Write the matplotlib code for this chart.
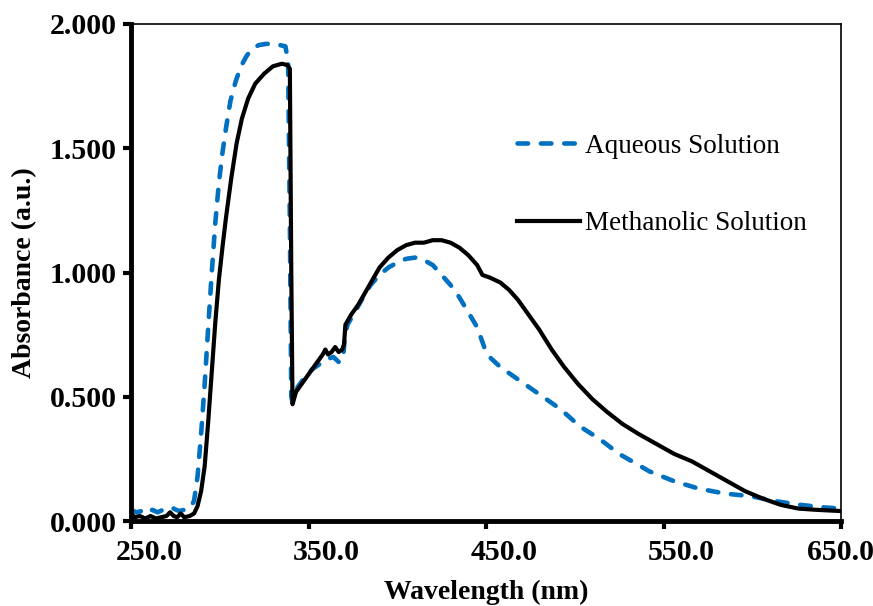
import numpy as np
import matplotlib
matplotlib.use('Agg')
import matplotlib.pyplot as plt
import matplotlib.transforms as mtransforms
from matplotlib.ticker import FormatStrFormatter

plt.rcParams['font.family'] = 'Liberation Serif'

# Aqueous solution (blue dashed)
aq_wl = [250, 253, 256, 259, 262, 265, 268, 271, 274, 277, 280, 283, 285.5, 287.5, 289.5,
         291.5, 293.5, 295.5, 297.5, 299.5, 301.5, 303.5, 306, 309, 312, 315, 318, 322,
         326, 330, 334, 337, 338.5, 339.5, 340.3, 341, 344, 348, 352, 356, 360, 364, 367,
         369.5, 370.5, 372, 376, 380, 385, 390, 395, 400, 405, 410, 415, 420, 425, 430,
         435, 440, 445, 449, 452, 458, 464, 470, 480, 492, 503, 514, 525, 542, 556, 570,
         585, 599, 613, 627, 640, 650]
aq_abs = [0.045, 0.035, 0.04, 0.03, 0.045, 0.035, 0.045, 0.04, 0.05, 0.04, 0.045, 0.05,
          0.08, 0.18, 0.35, 0.55, 0.78, 1.0, 1.2, 1.36, 1.48, 1.58, 1.69, 1.77, 1.83, 1.87,
          1.9, 1.915, 1.92, 1.92, 1.915, 1.91, 1.85, 1.2, 0.5, 0.48, 0.54, 0.58, 0.61,
          0.63, 0.65, 0.66, 0.64, 0.65, 0.75, 0.79, 0.84, 0.89, 0.95, 0.99, 1.02, 1.04,
          1.055, 1.06, 1.05, 1.03, 0.99, 0.95, 0.9, 0.84, 0.78, 0.7, 0.66, 0.62, 0.59,
          0.56, 0.51, 0.45, 0.38, 0.33, 0.27, 0.2, 0.16, 0.13, 0.11, 0.1, 0.08, 0.065,
          0.055, 0.05]

# Methanolic solution (black solid)
me_wl = [250, 252, 255, 258, 261, 264, 267, 270, 272, 274, 276, 278, 280, 283, 285.5,
         287.5, 289.5, 291.5, 293.5, 295.5, 297.5, 299.5, 301.5, 303.5, 306.5, 309.5,
         312.5, 316, 320, 325, 330, 335, 338, 339.5, 340.3, 341, 343, 347, 351, 355, 358,
         359.5, 361, 363, 365, 367, 369, 370, 370.8, 374, 378, 382, 386, 390, 395, 400,
         405, 410, 415, 420, 425, 430, 435, 440, 445, 448, 452, 458, 463, 468, 474, 480,
         487, 494, 502, 510, 518, 527, 536, 546, 556, 566, 576, 586, 596, 606, 616, 626,
         636, 650]
me_abs = [0.03, 0.015, 0.02, 0.01, 0.02, 0.01, 0.015, 0.02, 0.035, 0.02, 0.015, 0.03,
          0.015, 0.02, 0.03, 0.06, 0.12, 0.22, 0.4, 0.6, 0.8, 0.97, 1.1, 1.22, 1.38, 1.52,
          1.62, 1.7, 1.76, 1.8, 1.83, 1.84, 1.835, 1.82, 1.0, 0.47, 0.52, 0.56, 0.6, 0.64,
          0.67, 0.69, 0.67, 0.68, 0.7, 0.68, 0.69, 0.71, 0.79, 0.83, 0.87, 0.92, 0.97,
          1.02, 1.06, 1.09, 1.11, 1.12, 1.12, 1.13, 1.13, 1.12, 1.1, 1.07, 1.03, 0.99,
          0.98, 0.96, 0.93, 0.89, 0.83, 0.77, 0.69, 0.62, 0.55, 0.49, 0.44, 0.39, 0.35,
          0.31, 0.27, 0.24, 0.2, 0.16, 0.12, 0.09, 0.065, 0.05, 0.045, 0.04]

fig = plt.figure(figsize=(8.73, 6.06), dpi=100)
ax = fig.add_axes([131/873, 85/606, 710/873, 497/606])

ax.plot(aq_wl, aq_abs, color='#0070C0', lw=3.3, dashes=(2.3, 2.8),
        dash_capstyle='round', solid_capstyle='round', label='Aqueous Solution')
ax.plot(me_wl, me_abs, color='black', lw=3.0, solid_joinstyle='round',
        label='Methanolic Solution')

ax.set_xlim(250, 650)
ax.set_ylim(0, 2.0)
ax.set_xticks([250, 350, 450, 550, 650])
ax.set_yticks([0, 0.5, 1.0, 1.5, 2.0])
ax.xaxis.set_major_formatter(FormatStrFormatter('%.1f'))
ax.yaxis.set_major_formatter(FormatStrFormatter('%.3f'))

for s in ['left', 'bottom']:
    ax.spines[s].set_linewidth(3.5)
for s in ['top', 'right']:
    ax.spines[s].set_linewidth(1.2)
ax.tick_params(direction='out', length=6, width=3, labelsize=21.5, pad=4,
               top=False, right=False)
ax.tick_params(axis='x', pad=7)
# x labels sit a little right of their ticks, as in the original
xlabs = ax.get_xticklabels()
for i, lab in enumerate(xlabs):
    dx = 0.18 if i < len(xlabs) - 1 else 0.0
    shift = mtransforms.ScaledTranslation(dx, 0, fig.dpi_scale_trans)
    lab.set_transform(lab.get_transform() + shift)
for lab in ax.get_xticklabels() + ax.get_yticklabels():
    lab.set_fontweight('bold')

ax.set_xlabel('Wavelength (nm)', fontsize=20, fontweight='bold')
ax.set_ylabel('Absorbance (a.u.)', fontsize=20, fontweight='bold')
ax.xaxis.set_label_coords(0.5, -0.118)
ax.yaxis.set_label_coords(-0.132, 0.5)

ax.legend(loc='center left', bbox_to_anchor=(0.51, 0.676), frameon=False,
          fontsize=19.5, handlelength=2.3, handletextpad=0.2, labelspacing=1.95)

fig.savefig('out.png', dpi=100)
